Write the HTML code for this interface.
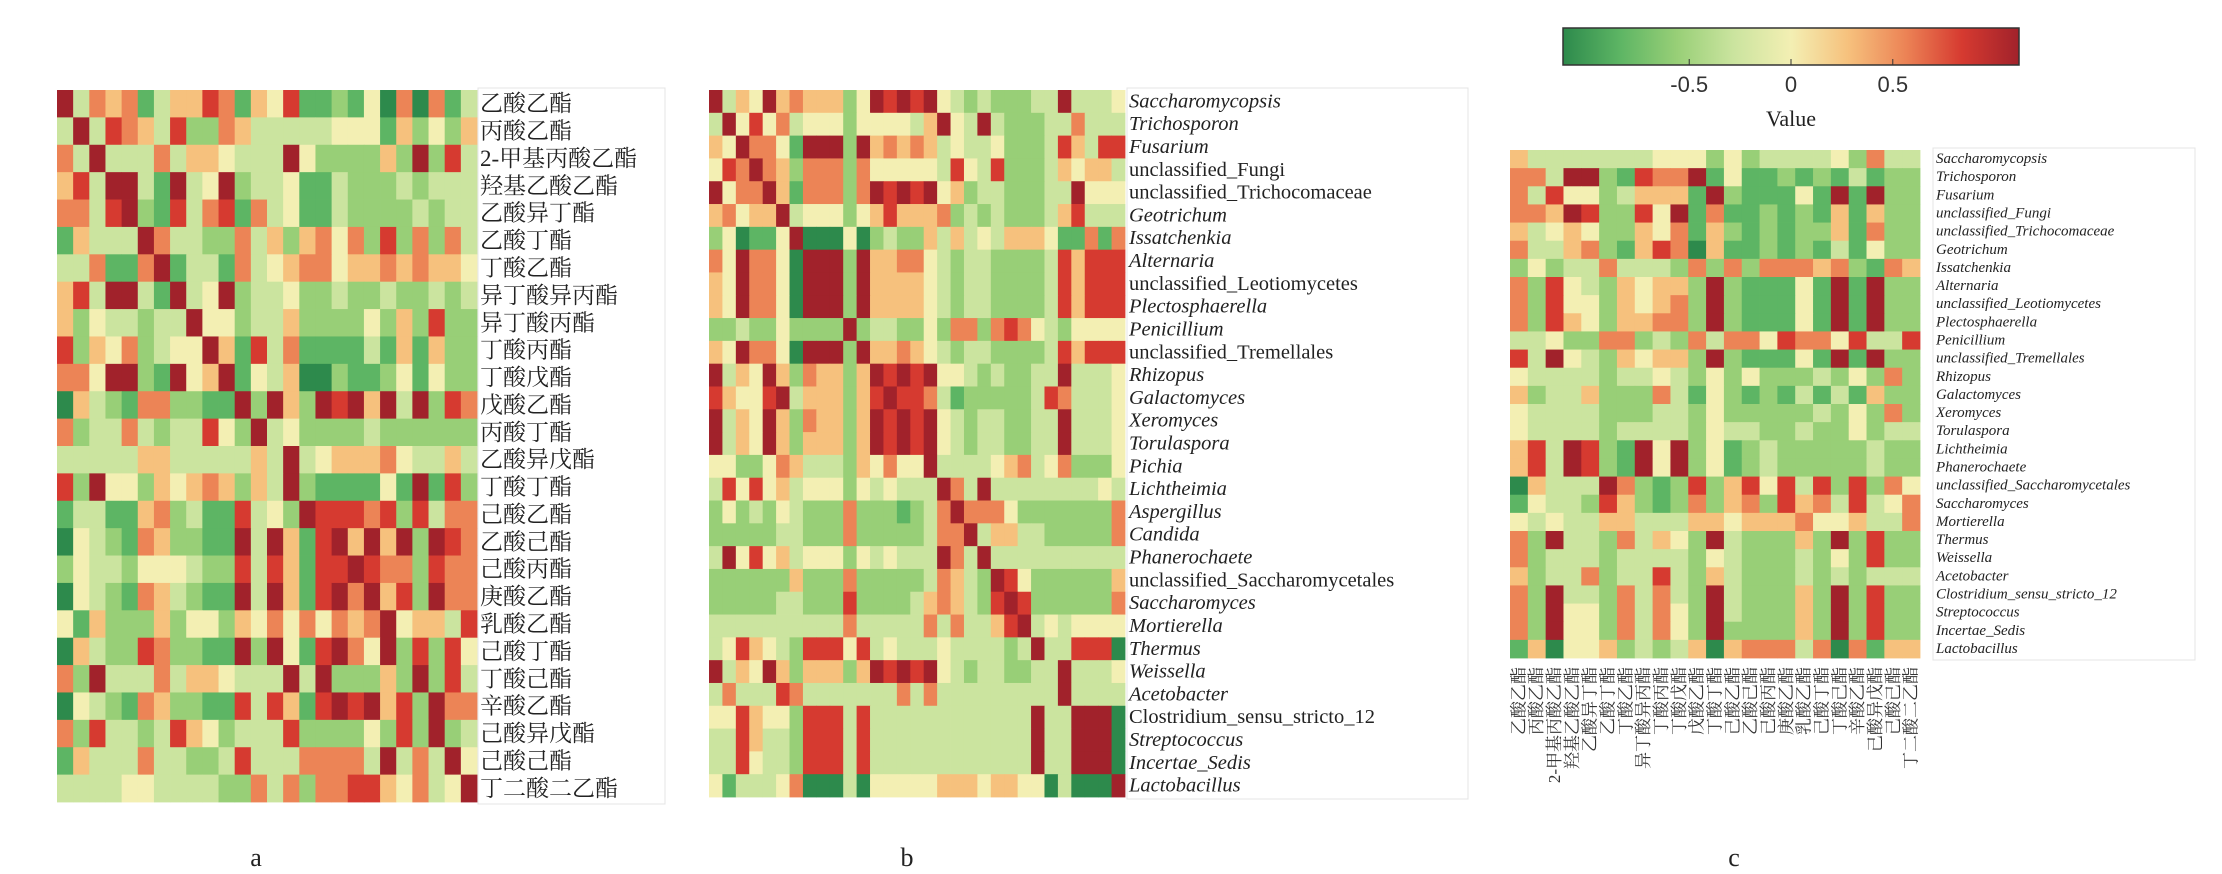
<!DOCTYPE html>
<html><head><meta charset="utf-8">
<style>
html,body{margin:0;padding:0;background:#fff;}
svg{display:block;}
</style></head>
<body>
<svg id="chart" width="2222" height="874" xmlns="http://www.w3.org/2000/svg"></svg>
<script>
// ---- Panel a data: ester-ester correlation (digit code 0..8 => -1..1) ----
const estersA = ["乙酸乙酯","丙酸乙酯","2-甲基丙酸乙酯","羟基乙酸乙酯","乙酸异丁酯","乙酸丁酯","丁酸乙酯","异丁酸异丙酯","异丁酸丙酯","丁酸丙酯","丁酸戊酯","戊酸乙酯","丙酸丁酯","乙酸异戊酯","丁酸丁酯","己酸乙酯","乙酸己酯","己酸丙酯","庚酸乙酯","乳酸乙酯","己酸丁酯","丁酸己酯","辛酸乙酯","己酸异戊酯","己酸己酯","丁二酸二乙酯"];
const valuesA = [
"83656135576154711214060613",
"38376537226533333444152425",
"63833363554333842222528273",
"57388318348233411322232333",
"66378217367163411322223233",
"15333863322635256462726263",
"33611681331634566455656554",
"57388318348233422322322323",
"52433233844233522224252722",
"72546234485173611113151522",
"66488218458143500211241422",
"05321662211828528785838276",
"62336323374283422223222222",
"33333553333353834555643353",
"72844254565253821111418172",
"13311562311734287776727366",
"04321652211838517858582876",
"24332444322737517787662766",
"04321653211838517868572866",
"41522252442546464656845537",
"05322762211828417864827274",
"62833363554333838222528273",
"04321652211737517878572866",
"62733237542333722224272823",
"15333633223733366663836384",
"33334433332263626677546348"
];
// ---- Panel b data: microbe-microbe correlation ----
const taxaB = ["Saccharomycopsis","Trichosporon","Fusarium","unclassified_Fungi","unclassified_Trichocomaceae","Geotrichum","Issatchenkia","Alternaria","unclassified_Leotiomycetes","Plectosphaerella","Penicillium","unclassified_Tremellales","Rhizopus","Galactomyces","Xeromyces","Torulaspora","Pichia","Lichtheimia","Aspergillus","Candida","Phanerochaete","unclassified_Saccharomycetales","Saccharomyces","Mortierella","Thermus","Weissella","Acetobacter","Clostridium_sensu_stricto_12","Streptococcus","Incertae_Sedis","Lactobacillus"];
const valuesB = [
"8354856555248787843232223383334",
"3847463444244443584383222336333",
"5486641888285656534334222375377",
"4768652666264444437437222354553",
"8466851666268787845233222338444",
"5645583444245755562323222357333",
"2401148000402322535343555411616",
"6486640888285566432332222375777",
"5486640888285555432332222375777",
"5486640888285555432332222375777",
"2232242222823322426626764324444",
"5486640888285565432332222375777",
"8354852655258787844323223383334",
"7544783555257877631222223763334",
"8354852655258787843233223383334",
"8354852555258787843233223383334",
"4422465333254644833334563462224",
"3747453444243433386383333333343",
"2423243222622212368666422222226",
"2222233222622222366835533222226",
"3847453444243433386383333333333",
"2222225222622222365328742222225",
"2222233222722223565327872222226",
"3333333333633333636335783434444",
"3475432777473433343333238337770",
"8354852555258787843233223383334",
"3633376333333363633333333383333",
"4475442777373333333333338338880",
"3375332777373333333333338338880",
"3374332777373333333333338338880",
"4133346000304444455545544030008"
];
// ---- Panel c data: microbe-ester correlation ----
const estersC = ["乙酸乙酯","丙酸乙酯","2-甲基丙酸乙酯","羟基乙酸乙酯","乙酸异丁酯","乙酸丁酯","丁酸乙酯","异丁酸异丙酯","丁酸丙酯","丁酸戊酯","戊酸乙酯","丁酸丁酯","己酸乙酯","乙酸己酯","己酸丙酯","庚酸乙酯","乳酸乙酯","己酸丁酯","丁酸己酯","辛酸乙酯","己酸异戊酯","己酸己酯","丁二酸二乙酯"];
const taxaC = ["Saccharomycopsis","Trichosporon","Fusarium","unclassified_Fungi","unclassified_Trichocomaceae","Geotrichum","Issatchenkia","Alternaria","unclassified_Leotiomycetes","Plectosphaerella","Penicillium","unclassified_Tremellales","Rhizopus","Galactomyces","Xeromyces","Torulaspora","Lichtheimia","Phanerochaete","unclassified_Saccharomycetales","Saccharomyces","Mortierella","Thermus","Weissella","Acetobacter","Clostridium_sensu_stricto_12","Streptococcus","Incertae_Sedis","Lactobacillus"];
const valuesC = [
"53333333444242333342633",
"66388217668141121213122",
"63744235551821114181822",
"66587227481611212151522",
"53454225461521212251622",
"63356215760511212131422",
"24233633326262666562165",
"62743254552821114181822",
"62744254562821114181822",
"62754255662821114181822",
"33422662326366476647337",
"73843254552821114181822",
"43333233432424222324262",
"52335222631421213131522",
"43333222332422222324262",
"43333233332433223224233",
"57387218482412322222322",
"57387218482412322222322",
"05333862127257473727264",
"14332752126256275637346",
"43433553335545556445336",
"62833263542832225282722",
"62333233332432223242722",
"52336233732532223232333",
"62833263632832225282722",
"62844263642832225282722",
"62844263642822225282722",
"15044523235056663606155"
];
const colorTicks = [-0.5, 0, 0.5];

const palette = ["#2d8a4c","#5db564","#98cf77","#cbe49f","#f3efb3","#f6c17d","#ec8456","#d63a30","#a1222b"];
function codeToValue(ch){ return (parseInt(ch,10)-4)/4; }
function colorOf(v){
  const t = Math.max(0, Math.min(1,(v+1)/2))*(palette.length-1);
  const i = Math.min(palette.length-2, Math.floor(t)), f = t-i;
  const a = hex(palette[i]), b = hex(palette[i+1]);
  return "rgb(" + a.map((c,k)=>Math.round(c+(b[k]-c)*f)).join(",") + ")";
}
function hex(h){ return [1,3,5].map(i=>parseInt(h.substr(i,2),16)); }

const NS = "http://www.w3.org/2000/svg";
const svg = document.getElementById("chart");
function el(tag, attrs, parent){
  const e = document.createElementNS(NS, tag);
  for (const k in attrs) e.setAttribute(k, attrs[k]);
  (parent||svg).appendChild(e);
  return e;
}

function drawHeatmap(cfg){
  const g = el("g", {});
  
  
  const rows = cfg.values.length, cols = cfg.values[0].length;
  const xScale = c => cfg.x0 + c*cfg.w/cols;
  const yScale = r => cfg.y0 + r*cfg.h/rows;
  for (let r=0;r<rows;r++){
    for (let c=0;c<cols;c++){
      const v = codeToValue(cfg.values[r][c]);
      const x = xScale(c), y = yScale(r);
      const rect = el("rect", {x:x.toFixed(2), y:y.toFixed(2), width:(xScale(c+1)-x+0.4).toFixed(2), height:(yScale(r+1)-y+0.4).toFixed(2), fill:colorOf(v)}, g);
      
      
    }
  }
  // label box
  const box = el("rect", {x:cfg.boxX, y:cfg.y0-2, width:cfg.boxW, height:cfg.h+4, fill:"none", stroke:"#e4e4e4", "stroke-width":1});
  
  
  for (let r=0;r<rows;r++){
    const name = cfg.labels[r];
    const italic = cfg.italic(name);
    const t = el("text", {x:cfg.lx, y:(yScale(r)+yScale(r+1))/2, "dominant-baseline":"central",
      "font-family": cfg.font, "font-size": cfg.fs, fill:"#222", "font-style": italic?"italic":"normal"});
    t.textContent = name;
    
    
  }
  return {xScale, yScale};
}

drawHeatmap({name:"heatmap-a", values:valuesA, labels:estersA, x0:57, y0:90, w:420, h:712,
  lx:480, fs:23, font:'"Liberation Serif","Noto Serif CJK SC","Noto Sans CJK SC",serif', italic:()=>false, boxX:478, boxW:187});
drawHeatmap({name:"heatmap-b", values:valuesB, labels:taxaB, x0:709, y0:90, w:416, h:707,
  lx:1129, fs:20.5, font:'"Liberation Serif",serif', italic:n=>!(n.startsWith("unclassified")||n.startsWith("Clostridium")), boxX:1127, boxW:341});
const sc = drawHeatmap({name:"heatmap-c", values:valuesC, labels:taxaC, x0:1510, y0:150, w:410, h:508,
  lx:1936, fs:15, font:'"Liberation Serif",serif', italic:()=>true, boxX:1933, boxW:262});

// panel c x labels (rotated)
for (let c=0;c<estersC.length;c++){
  const x = (sc.xScale(c)+sc.xScale(c+1))/2;
  const t = el("text", {x:x, y:667, transform:"rotate(-90 "+x+" 667)", "text-anchor":"end", "dominant-baseline":"central",
    "font-family":'"Liberation Serif","Noto Serif CJK SC","Noto Sans CJK SC",serif', "font-size":17, fill:"#333"});
  t.textContent = estersC[c];
  
  
}

// colorbar
const cbX = 1563, cbY = 28, cbW = 456, cbH = 37;
const defs = el("defs", {});
const grad = el("linearGradient", {id:"cbg", x1:"0", x2:"1", y1:"0", y2:"0"}, defs);
palette.forEach((p,i)=>el("stop", {offset:(i/(palette.length-1)), "stop-color":p}, grad));
const cb = el("rect", {x:cbX, y:cbY, width:cbW, height:cbH, fill:"url(#cbg)", stroke:"#333", "stroke-width":1.5});


const cbScale = v => cbX + (v+1.12)/2.24*cbW;
colorTicks.forEach(v=>{
  const x = cbScale(v);
  el("line", {x1:x, x2:x, y1:cbY+cbH, y2:cbY+cbH-6, stroke:"#333"});
  const t = el("text", {x:x, y:92, "text-anchor":"middle", "font-family":'"Liberation Sans",sans-serif', "font-size":22, fill:"#333"});
  t.textContent = v;
  
  
});
const vt = el("text", {x:1791, y:126, "text-anchor":"middle", "font-family":'"Liberation Serif",serif', "font-size":22, fill:"#222"});
vt.textContent = "Value";



// panel letters
[["a",256],["b",907],["c",1734]].forEach(([s,x])=>{
  const t = el("text", {x:x, y:866, "text-anchor":"middle", "font-family":'"Liberation Serif",serif', "font-size":26, fill:"#222"});
  t.textContent = s;
  
  
});
</script>
</body></html>
